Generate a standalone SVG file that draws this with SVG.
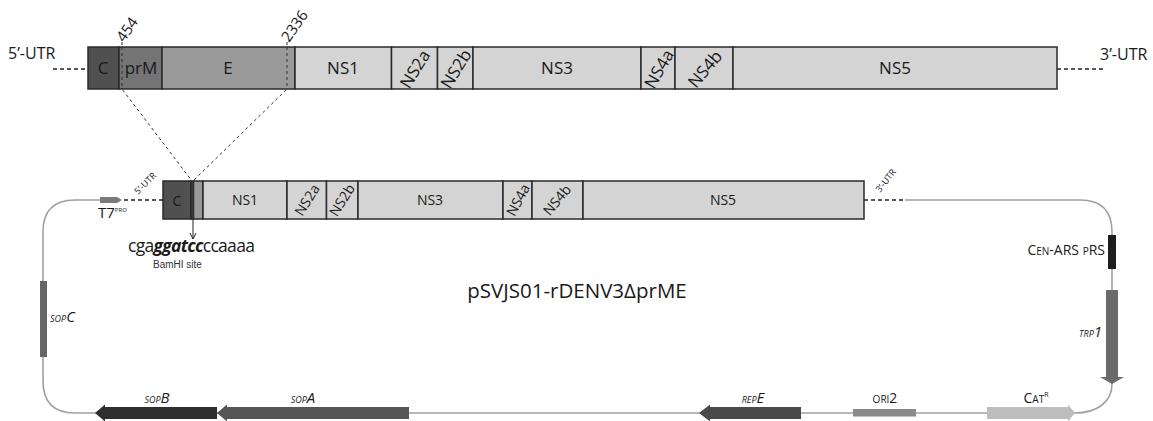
<svg xmlns="http://www.w3.org/2000/svg" width="1153" height="421" viewBox="0 0 1153 421">
<style>
text{font-family:"Open Sans","Noto Sans",sans-serif;fill:#1a1a1a}
.seg{stroke:#2a2a2a;stroke-width:1.5}
.ns{fill:#d4d4d4}
.c{fill:#505050}
.pm{fill:#747474}
.e{fill:#9a9a9a}
.t1{font-size:17px;text-anchor:middle}
.t2{font-size:14px;text-anchor:middle}
.dash{stroke:#222;stroke-width:1.5;stroke-dasharray:4 3;fill:none}
.thin{stroke:#333;stroke-width:1;stroke-dasharray:3 3;fill:none}
.bb{stroke:#a0a0a0;stroke-width:1.6;fill:none}
.it{font-style:italic}
</style>
<defs>
<marker id="ah" markerWidth="8" markerHeight="8" refX="7" refY="4" orient="auto" markerUnits="userSpaceOnUse">
<path d="M1,1 L7,4 L1,7" fill="none" stroke="#222" stroke-width="1"/>
</marker>
</defs>

<g id="connectors">
<path class="dash" d="M53 69 H88"/>
<path class="dash" d="M1057 69 H1105"/>
<path class="thin" d="M122 42 V89 L192 181"/>
<path class="thin" d="M287 42 V89 L193 181"/>
<path class="dash" d="M124 200 H163"/>
<path class="dash" d="M864 200 H905"/>
<path class="bb" d="M100 200 H75 Q43 200 43 232 V381 Q43 413 75 413 H1075"/>
<path class="bb" d="M1075 413 C1097 413 1112 402 1112 384"/>
<path class="bb" d="M905 200 H1080 Q1112 200 1112 232 V290"/>
<path d="M193 219 V239" stroke="#222" stroke-width="1" fill="none" marker-end="url(#ah)"/>
</g>

<g id="genome">
<rect class="seg c" x="88" y="47" width="31" height="42"/>
<rect class="seg pm" x="119" y="47" width="43" height="42"/>
<rect class="seg e" x="162" y="47" width="133" height="42"/>
<rect class="seg ns" x="295" y="47" width="96.5" height="42"/>
<rect class="seg ns" x="391.5" y="47" width="46" height="42"/>
<rect class="seg ns" x="437.5" y="47" width="35.5" height="42"/>
<rect class="seg ns" x="473" y="47" width="168" height="42"/>
<rect class="seg ns" x="641" y="47" width="34" height="42"/>
<rect class="seg ns" x="675" y="47" width="58" height="42"/>
<rect class="seg ns" x="733" y="47" width="324" height="42"/>
<path class="thin" d="M122 47 V89 M287 47 V89"/>
<text class="t1" x="103" y="74">C</text>
<text class="t1" x="141" y="74">prM</text>
<text class="t1" x="228" y="74">E</text>
<text class="t1" x="343" y="74">NS1</text>
<text class="t1" x="557" y="74">NS3</text>
<text class="t1" x="895" y="74">NS5</text>
<text class="t1" font-size="16" transform="translate(415,69) rotate(-58)" dy="6">NS2a</text>
<text class="t1" font-size="16" transform="translate(456,69) rotate(-58)" dy="6">NS2b</text>
<text class="t1" font-size="16" transform="translate(659,69) rotate(-60)" dy="6">NS4a</text>
<text class="t1" font-size="16" transform="translate(705,69) rotate(-50)" dy="6">NS4b</text>
<text font-size="16" x="8" y="59">5’-UTR</text>
<text font-size="16" x="1100" y="60">3’-UTR</text>
<text font-size="15" transform="translate(124,43) rotate(-55)">454</text>
<text font-size="15" transform="translate(289,43) rotate(-55)">2336</text>
</g>

<g id="construct">
<rect class="seg c" x="163" y="181" width="28" height="38"/>
<rect class="seg c" x="191" y="181" width="2.5" height="38"/>
<rect class="seg e" x="193.5" y="181" width="9.5" height="38"/>
<rect class="seg ns" x="203" y="181" width="84" height="38"/>
<rect class="seg ns" x="287" y="181" width="39.5" height="38"/>
<rect class="seg ns" x="326.5" y="181" width="31.5" height="38"/>
<rect class="seg ns" x="358" y="181" width="145" height="38"/>
<rect class="seg ns" x="503" y="181" width="29" height="38"/>
<rect class="seg ns" x="532" y="181" width="51" height="38"/>
<rect class="seg ns" x="583" y="181" width="281" height="38"/>
<text class="t2" x="177" y="206" font-size="16">C</text>
<text class="t2" x="245" y="205">NS1</text>
<text class="t2" x="430" y="205">NS3</text>
<text class="t2" x="723" y="205">NS5</text>
<text class="t2" transform="translate(307,200) rotate(-58)" dy="5">NS2a</text>
<text class="t2" transform="translate(342,200) rotate(-58)" dy="5">NS2b</text>
<text class="t2" transform="translate(518,200) rotate(-62)" dy="5">NS4a</text>
<text class="t2" transform="translate(557,200) rotate(-50)" dy="5">NS4b</text>
<text font-size="9" transform="translate(138,195) rotate(-45)">5’-UTR</text>
<text font-size="9" transform="translate(880,193) rotate(-52)">3’-UTR</text>
</g>

<g id="bamhi">
<text font-size="17.5" x="128" y="252" letter-spacing="-0.7">cga<tspan font-weight="bold" font-style="italic">ggatcc</tspan>ccaaaa</text>
<text font-size="10" x="153" y="268" style="font-family:'Liberation Sans',Arial,sans-serif;fill:#333">BamHI site</text>
</g>

<g id="t7">
<path d="M100 197 H117 L122 200 L117 203 H100 Z" fill="#7a7a7a"/>
<text font-size="15" x="98" y="218">T7<tspan font-size="6" dy="-6">PRO</tspan></text>
</g>

<g id="cen">
<rect x="1108" y="235" width="8" height="34" fill="#1e1e1e"/>
<text font-size="14" x="1105" y="255" text-anchor="end">C<tspan font-size="10">EN</tspan>-ARS <tspan font-size="10">P</tspan>RS</text>
</g>

<g id="trp1">
<path d="M1106 290 H1118 V377 H1124 L1112 384 L1100 377 H1106 Z" fill="#6a6a6a"/>
<text class="it" font-size="15" x="1102" y="337" text-anchor="end"><tspan font-size="9">TRP</tspan>1</text>
</g>

<g id="catr">
<path d="M987 407 H1068 V404.5 L1075 413 L1068 421.5 V419 H987 Z" fill="#bdbdbd"/>
<text font-size="14" x="1036" y="403" text-anchor="middle">C<tspan font-size="10">AT</tspan><tspan font-size="7" dy="-6">R</tspan></text>
</g>

<g id="ori2">
<rect x="853" y="409" width="63" height="7.5" fill="#8a8a8a"/>
<text font-size="14" x="885" y="403" text-anchor="middle"><tspan font-size="10">ORI</tspan>2</text>
</g>

<g id="repe">
<path d="M801 407 H710 V404.5 L699 413 L710 421.5 V419 H801 Z" fill="#4a4a4a"/>
<text class="it" font-size="15" x="753" y="403" text-anchor="middle"><tspan font-size="9">REP</tspan>E</text>
</g>

<g id="sopa">
<path d="M409 407 H227 V404.5 L217 413 L227 421.5 V419 H409 Z" fill="#555"/>
<text class="it" font-size="15" x="303" y="403" text-anchor="middle"><tspan font-size="9">SOP</tspan>A</text>
</g>

<g id="sopb">
<path d="M217 407 H105 V404.5 L95 413 L105 421.5 V419 H217 Z" fill="#2e2e2e"/>
<text class="it" font-size="15" x="157" y="403" text-anchor="middle"><tspan font-size="9">SOP</tspan>B</text>
</g>

<g id="sopc">
<rect x="40" y="281" width="7" height="76" fill="#666"/>
<text class="it" font-size="15" x="50" y="322"><tspan font-size="9">SOP</tspan>C</text>
</g>

<g id="title">
<text font-size="20.5" x="577" y="298" text-anchor="middle">pSVJS01-rDENV3ΔprME</text>
</g>
</svg>
